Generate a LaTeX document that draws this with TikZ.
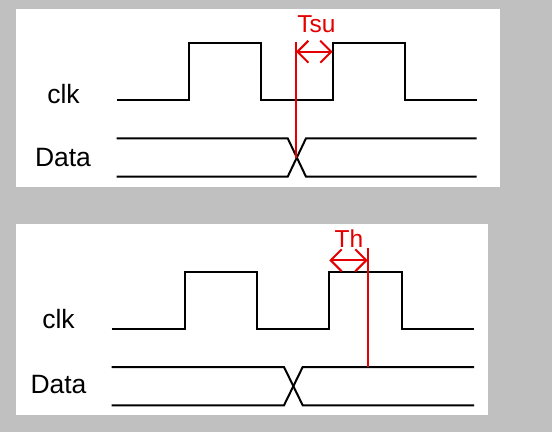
\documentclass[tikz,border=0pt]{standalone}
\usepackage{fontspec}
\setmainfont{Liberation Sans}
\usetikzlibrary{arrows.meta}
\definecolor{bg}{RGB}{192,192,192}
\definecolor{sigred}{RGB}{228,0,0}
\tikzset{
  wave/.style={draw=black, line width=2pt, line join=miter},
  marker/.style={draw=sigred, line width=2pt},
  dim/.style={draw=sigred, line width=2pt, {Straight Barb[length=11pt,width=22pt,line width=2pt]}-{Straight Barb[length=11pt,width=22pt,line width=2pt]}},
  sig/.style={font=\fontsize{26.5}{26.5}\selectfont, anchor=base, inner sep=0pt},
  tlabel/.style={font=\fontsize{24.5}{24.5}\selectfont, text=sigred, anchor=base, inner sep=0pt},
  panel/.style={fill=white, draw=none}
}
\begin{document}
\begin{tikzpicture}[x=1pt,y=-1pt]
\useasboundingbox (0,0) rectangle (552,432);
\fill[bg] (0,0) rectangle (552,432);
% ---------- top panel ----------
\fill[panel] (16,9) rectangle (500,187);
\node[sig] (clkA) at (63.5,103) {clk};
\node[sig] (dataA) at (63,166.5) {Data};
\draw[wave] (116.7,100) -- (189,100) -- (189,43.3) -- (260.7,43.3) -- (260.7,100)
  -- (332.7,100) -- (332.7,43.3) -- (404.7,43.3) -- (404.7,100) -- (476.7,100);
\draw[wave] (116.7,138.3) -- (287.7,138.3) -- (306,176.7) -- (476.7,176.7);
\draw[wave] (116.7,176.7) -- (287.7,176.7) -- (306,138.3) -- (476.7,138.3);
\coordinate (suTop) at (296,41.5);
\coordinate (suCross) at (296,157.5);
\coordinate (suL) at (296,51.7);
\coordinate (suR) at (332.7,51.7);
\draw[marker] (suTop) -- (suCross);
\draw[dim] (suL) -- (suR);
\node[tlabel] (tsu) at (316.5,32.3) {Tsu};
% ---------- bottom panel ----------
\fill[panel] (16,224) rectangle (488,415);
\node[sig] (clkB) at (58.5,328.5) {clk};
\node[sig] (dataB) at (58.5,393.5) {Data};
\draw[wave] (111.7,328.7) -- (185,328.7) -- (185,271.7) -- (257,271.7) -- (257,328.7)
  -- (329.3,328.7) -- (329.3,271.7) -- (401.7,271.7) -- (401.7,328.7) -- (474,328.7);
\draw[wave] (111.7,367) -- (284,367) -- (302.7,405.3) -- (474,405.3);
\draw[wave] (111.7,405.3) -- (284,405.3) -- (302.7,367) -- (474,367);
\coordinate (hTop) at (367.7,247.7);
\coordinate (hBot) at (367.7,367);
\coordinate (hL) at (329.3,260.3);
\coordinate (hR) at (367.7,260.3);
\draw[marker] (hTop) -- (hBot);
\draw[dim] (hL) -- (hR);
\node[tlabel] (th) at (349,247.7) {Th};
\end{tikzpicture}
\end{document}
